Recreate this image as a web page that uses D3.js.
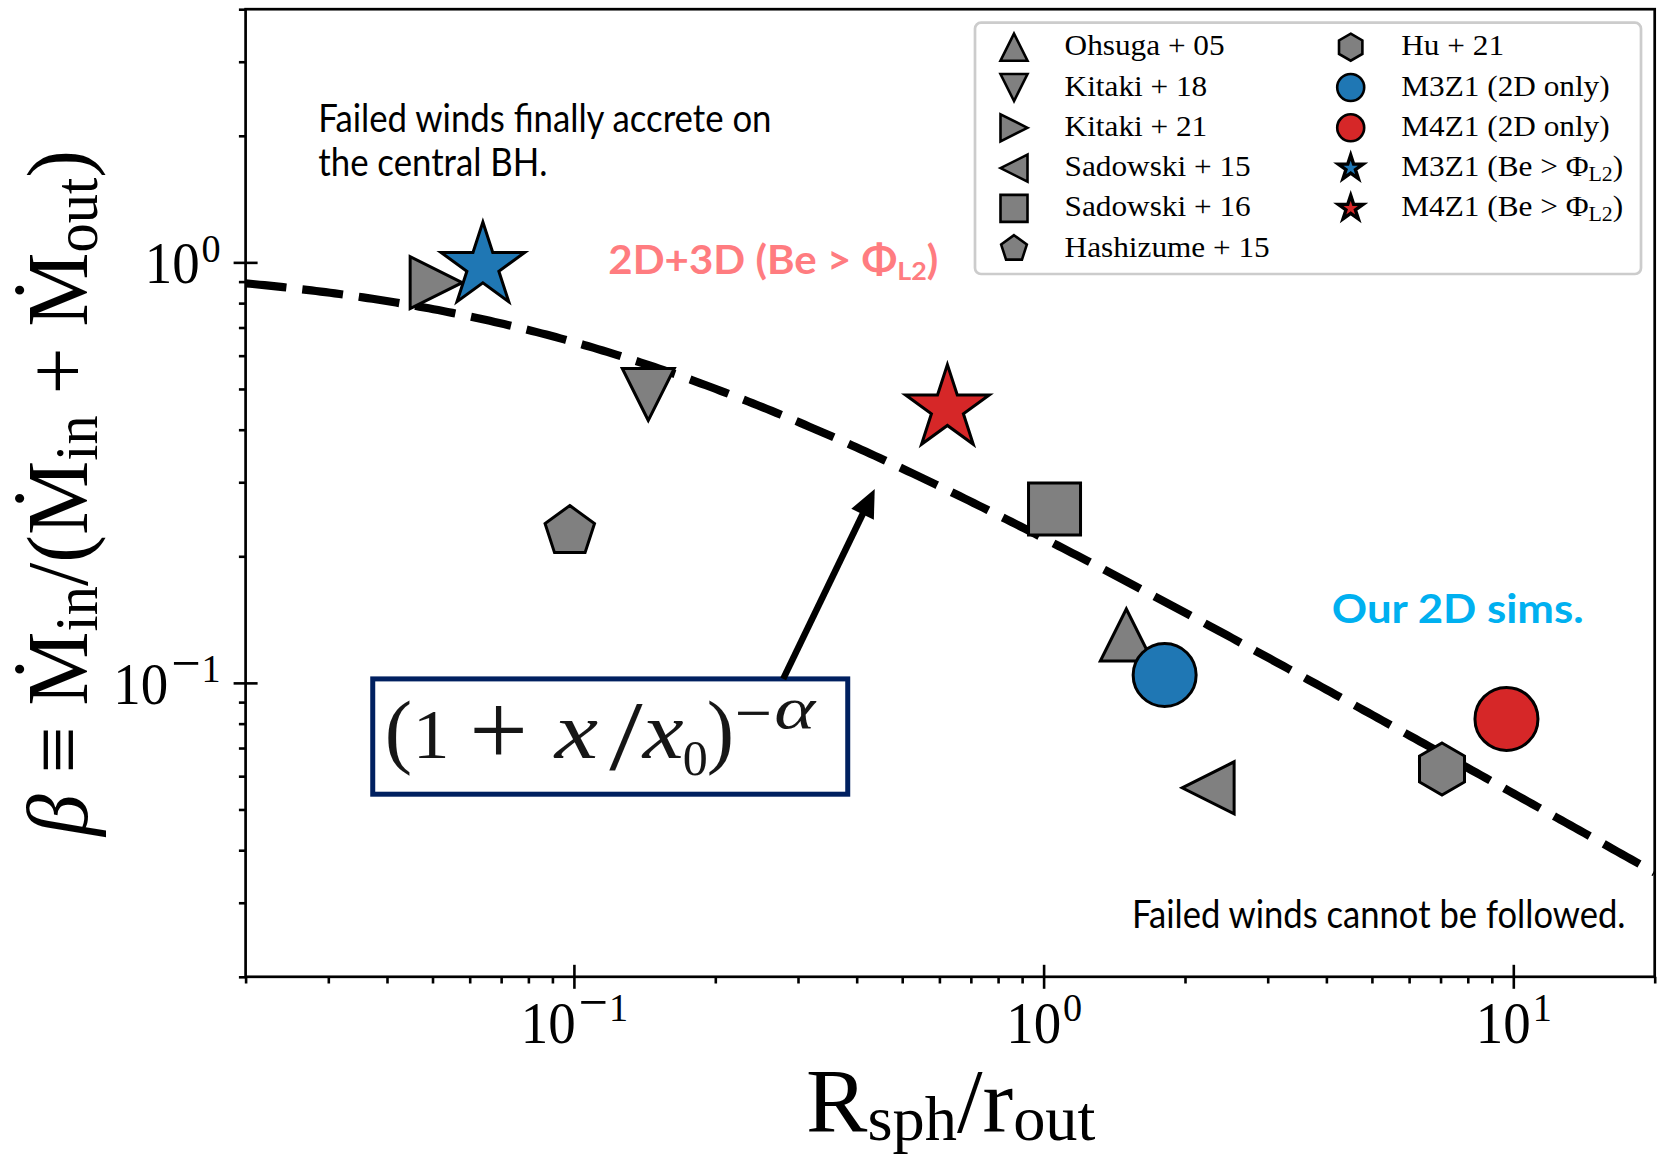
<!DOCTYPE html>
<html>
<head>
<meta charset="utf-8">
<script src="https://cdn.jsdelivr.net/npm/d3@7"></script>
<style>
  html, body { margin: 0; padding: 0; background: #fff; }
  svg { display: block; }
</style>
</head>
<body>
<svg id="chart" width="1660" height="1156"></svg>
<script>
// ---- data -------------------------------------------------------------
const legendLabels = [
  "Ohsuga + 05", "Kitaki + 18", "Kitaki + 21", "Sadowski + 15", "Sadowski + 16",
  "Hashizume + 15", "Hu + 21", "M3Z1 (2D only)", "M4Z1 (2D only)",
  "M3Z1 (Be > Φ_{L2})", "M4Z1 (Be > Φ_{L2})"
];
const markerShapes = [
  "triangle-up", "triangle-down", "triangle-right", "triangle-left", "square",
  "pentagon", "hexagon", "circle", "circle", "star", "star"
];
const markerFills = [
  "#808080", "#808080", "#808080", "#808080", "#808080", "#808080", "#808080",
  "#1f77b4", "#d62728", "#1f77b4", "#d62728"
];
// R_sph / r_out
const rSphOverROut = [1.50, 0.144, 0.0509, 2.24, 1.055, 0.098, 7.05, 1.81, 9.67, 0.064, 0.624];
// beta = Mdot_in / (Mdot_in + Mdot_out)
const betaValues   = [0.130, 0.485, 0.895, 0.0563, 0.259, 0.229, 0.0624, 0.1044, 0.0821, 0.98, 0.449];

// fitted relation beta = (1 + x/x0)^(-alpha)
const fitX0 = 0.1;
const fitAlpha = 0.63;

const xDomain = [0.02, 20];
const yDomain = [0.02, 4];
const xMajorTicks = [0.1, 1, 10];
const xMajorExponents = ["−1", "0", "1"];
const yMajorTicks = [0.1, 1];
const yMajorExponents = ["−1", "0"];

// ---- layout -----------------------------------------------------------
const plot = { left: 245.6, right: 1654.7, top: 9.2, bottom: 976.8 };
const SERIF = "'Liberation Serif', 'DejaVu Serif', serif";
const SANS = "Lato, Carlito, 'Open Sans', sans-serif";

const svg = d3.select("#chart");
const x = d3.scaleLog().domain(xDomain).range([plot.left, plot.right]);
const y = d3.scaleLog().domain(yDomain).range([plot.bottom, plot.top]);

svg.append("defs").append("clipPath").attr("id", "plot-clip")
  .append("rect")
  .attr("x", plot.left).attr("y", plot.top)
  .attr("width", plot.right - plot.left).attr("height", plot.bottom - plot.top);
svg.select("defs").append("filter").attr("id", "soft")
  .append("feGaussianBlur").attr("stdDeviation", 0.6);

// ---- helpers ----------------------------------------------------------
function parseRich(str) {
  const parts = [];
  const re = /([_^])\{([^}]*)\}|\*([^*]+)\*/g;
  let last = 0, m;
  while ((m = re.exec(str))) {
    if (m.index > last) parts.push({ t: str.slice(last, m.index), k: "n" });
    if (m[1]) parts.push({ t: m[2], k: m[1] === "_" ? "sub" : "sup" });
    else parts.push({ t: m[3], k: "it" });
    last = re.lastIndex;
  }
  if (last < str.length) parts.push({ t: str.slice(last), k: "n" });
  return parts;
}

function writeRich(text, str, size, o = {}) {
  const subScale = o.subScale ?? 0.7, subDy = o.subDy ?? 0.16, supDy = o.supDy ?? 0.4;
  let off = 0;
  parseRich(str).forEach(p => {
    let target = 0, fs = size;
    if (p.k === "sub") { target = subDy * size; fs = size * subScale; }
    if (p.k === "sup") { target = -supDy * size; fs = size * subScale; }
    const ts = text.append("tspan").attr("dy", (target - off).toFixed(2)).attr("font-size", fs).text(p.t);
    if (p.k === "it") ts.attr("font-style", "italic");
    off = target;
  });
  return text;
}

// stretch a text horizontally so that it spans the given width
function fitWidth(text, width) {
  const w = text.node().getBBox().width;
  const s = width / w;
  text.attr("transform", `scale(${s},1)`);
  return s;
}

function markerPath(shape, ms) {
  const h = ms / 2;
  const poly = (n, r0, r1) => d3.range(n).map(i => {
    const r = i % 2 && r1 !== undefined ? r1 : r0;
    const a = (-90 + 360 / n * i) * Math.PI / 180;
    return [r * Math.cos(a), r * Math.sin(a)];
  });
  let pts;
  switch (shape) {
    case "circle":
      return `M${h},0A${h},${h} 0 1,1 ${-h},0A${h},${h} 0 1,1 ${h},0Z`;
    case "triangle-up":    pts = [[0, -h], [-h, h], [h, h]]; break;
    case "triangle-down":  pts = [[0, h], [-h, -h], [h, -h]]; break;
    case "triangle-right": pts = [[h, 0], [-h, -h], [-h, h]]; break;
    case "triangle-left":  pts = [[-h, 0], [h, -h], [h, h]]; break;
    case "square":         pts = [[-h, -h], [h, -h], [h, h], [-h, h]]; break;
    case "pentagon":       pts = poly(5, h); break;
    case "hexagon":        pts = poly(6, h); break;
    case "star":           pts = poly(10, h, h * 0.381966); break;
  }
  return "M" + pts.map(p => p.map(v => v.toFixed(2)).join(",")).join("L") + "Z";
}

const plotMarkerSize = s => s === "circle" ? 63 : s === "star" ? 88 : 52;
const legendMarkerSize = s => s === "star" ? 26 : 27;

// ---- fitted curve -------------------------------------------------------
const curveX = d3.range(0, 301).map(i => xDomain[0] * Math.pow(xDomain[1] / xDomain[0], i / 300));
const line = d3.line().x(d => x(d)).y(d => y(Math.pow(1 + d / fitX0, -fitAlpha)));
svg.append("path")
  .attr("clip-path", "url(#plot-clip)")
  .attr("d", line(curveX))
  .attr("fill", "none")
  .attr("stroke", "#000")
  .attr("stroke-width", 8.2)
  .attr("stroke-dasharray", "41,16")
  .attr("stroke-linecap", "butt");

// ---- markers ----------------------------------------------------------
const points = legendLabels.map((label, i) => ({
  label, shape: markerShapes[i], fill: markerFills[i], xv: rSphOverROut[i], yv: betaValues[i]
}));
svg.append("g").attr("clip-path", "url(#plot-clip)")
  .selectAll("path").data(points).join("path")
  .attr("transform", d => `translate(${x(d.xv)},${y(d.yv)})`)
  .attr("d", d => markerPath(d.shape, plotMarkerSize(d.shape)))
  .attr("fill", d => d.fill)
  .attr("stroke", "#000")
  .attr("stroke-width", 3)
  .attr("stroke-linejoin", "miter");

// ---- frame & axes -------------------------------------------------------
svg.append("rect")
  .attr("x", plot.left).attr("y", plot.top)
  .attr("width", plot.right - plot.left).attr("height", plot.bottom - plot.top)
  .attr("fill", "none").attr("stroke", "#000").attr("stroke-width", 2.7);

const minorOf = dom => {
  const out = [];
  for (let e = Math.floor(Math.log10(dom[0])); e <= Math.ceil(Math.log10(dom[1])); e++)
    for (let k = 2; k <= 9; k++) {
      const v = k * Math.pow(10, e);
      if (v >= dom[0] * 0.999 && v <= dom[1] * 1.001) out.push(v);
    }
  return out;
};

const TICK_FS = 59, TICK_SUP = 41;
// horizontal scale of the tick-label digits
const probe = svg.append("text").attr("font-family", SERIF).attr("font-size", TICK_FS).text("10");
const tickScale = 55 / probe.node().getBBox().width;
probe.remove();

function styleTickLabel(text, exponent) {
  text.text(null).attr("x", 0).attr("y", 0).attr("dy", null)
    .attr("fill", "#000").attr("font-family", SERIF).attr("font-size", TICK_FS);
  text.append("tspan").text("10");
  if (exponent.startsWith("−")) {
    text.append("tspan").attr("dx", 3).attr("dy", -21.6).attr("font-size", 56).text("−");
    text.append("tspan").attr("dx", 1).attr("font-size", TICK_SUP).text(exponent.slice(1));
  } else {
    text.append("tspan").attr("dx", 2).attr("dy", -21.6).attr("font-size", TICK_SUP).text(exponent);
  }
}

const gxMinor = svg.append("g").attr("transform", `translate(0,${plot.bottom})`)
  .call(d3.axisBottom(x).tickValues(minorOf(xDomain)).tickSize(6.7).tickFormat(() => ""));
const gx = svg.append("g").attr("transform", `translate(0,${plot.bottom})`)
  .call(d3.axisBottom(x).tickValues(xMajorTicks).tickSize(12));
gx.selectAll(".tick text").each(function (d, i) {
  const t = d3.select(this);
  styleTickLabel(t, xMajorExponents[i]);
  t.attr("text-anchor", "middle").attr("transform", `translate(0,65.7) scale(${tickScale},1)`);
});
gx.selectAll(".tick line").attr("y1", -12).attr("y2", 12);

const gyMinor = svg.append("g").attr("transform", `translate(${plot.left},0)`)
  .call(d3.axisLeft(y).tickValues(minorOf(yDomain)).tickSize(6.7).tickFormat(() => ""));
const gy = svg.append("g").attr("transform", `translate(${plot.left},0)`)
  .call(d3.axisLeft(y).tickValues(yMajorTicks).tickSize(12));
gy.selectAll(".tick text").each(function (d, i) {
  const t = d3.select(this);
  styleTickLabel(t, yMajorExponents[i]);
  t.attr("text-anchor", "end").attr("transform", `translate(-25,20.5) scale(${tickScale},1)`);
});
gy.selectAll(".tick line").attr("x1", 12).attr("x2", -12);

[gx, gy, gxMinor, gyMinor].forEach(g => {
  g.select(".domain").remove();
  g.selectAll(".tick line").attr("stroke", "#000").attr("stroke-width", 2.6);
});

// ---- axis titles --------------------------------------------------------
const xTitle = svg.append("g").attr("transform", "translate(806,1131.7)")
  .append("text").attr("font-family", SERIF).attr("fill", "#000");
writeRich(xTitle, "R_{sph}/r_{out}", 90, { subDy: 0.09, subScale: 0.7 });
fitWidth(xTitle, 290);

const yTitle = svg.append("g").attr("transform", "translate(87,836) rotate(-90)")
  .append("text").attr("font-family", SERIF).attr("fill", "#000");
writeRich(yTitle, "*β* ≡ Ṁ_{in}/(Ṁ_{in} + Ṁ_{out})", 87, { subDy: 0.12, subScale: 0.7 });
fitWidth(yTitle, 688);

// ---- legend -------------------------------------------------------------
const legend = svg.append("g");
legend.append("rect")
  .attr("x", 975).attr("y", 22.7).attr("width", 666).attr("height", 251.3)
  .attr("rx", 6).attr("fill", "#fff").attr("stroke", "#cccccc").attr("stroke-width", 2.7);
const LEG_FS = 28.7;
let legendScale = null;
points.forEach((p, i) => {
  const col = i < 6 ? 0 : 1, row = i < 6 ? i : i - 6;
  const baseY = 55.2 + row * 40.3;
  const mx = col === 0 ? 1014 : 1350.7;
  const tx = col === 0 ? 1064.6 : 1401.3;
  legend.append("path")
    .attr("transform", `translate(${mx},${baseY - 8})`)
    .attr("d", markerPath(p.shape, legendMarkerSize(p.shape)))
    .attr("fill", p.fill).attr("stroke", "#000")
    .attr("stroke-width", p.shape === "star" ? 3.4 : 2.6);
  const t = legend.append("g").attr("transform", `translate(${tx},${baseY})`)
    .append("text").attr("font-family", SERIF).attr("fill", "#000");
  writeRich(t, p.label, LEG_FS, { subDy: 0.16, subScale: 0.7 });
  if (legendScale === null) legendScale = fitWidth(t, 160);
  else t.attr("transform", `scale(${legendScale},1)`);
});

// ---- annotations --------------------------------------------------------
function note(str, left, baseline, size, width, opts) {
  const t = svg.append("g").attr("transform", `translate(${left},${baseline})`)
    .append("text").attr("font-family", SANS).attr("font-size", size)
    .attr("font-weight", opts.weight || 400).attr("fill", opts.color || "#000");
  writeRich(t, str, size, opts.rich || {});
  return width ? fitWidth(t, width) : t;
}
const sNote = note("Failed winds finally accrete on", 318.3, 131.5, 39.5, 453.4, {});
svg.append("g").attr("transform", "translate(318.3,175.5)")
  .append("text").attr("font-family", SANS).attr("font-size", 39.5).attr("fill", "#000")
  .attr("transform", `scale(${sNote},1)`).text("the central BH.");
note("2D+3D (Be > Φ_{L2})", 608.3, 274.3, 40, 330,
  { weight: 700, color: "#ff7c80", rich: { subDy: 0.15, subScale: 0.64 } });
note("Our 2D sims.", 1331.8, 623, 40.5, 252, { weight: 700, color: "#00b0f0" });
note("Failed winds cannot be followed.", 1132, 928.3, 39.5, 493.6, {});

// formula box with an arrow pointing at the fitted curve
const boxCorner = [0.0373, 0.1022];   // top-left, data space
const boxSize = [475, 115.3];
const bx = x(boxCorner[0]), by = y(boxCorner[1]);
svg.append("rect")
  .attr("x", bx).attr("y", by).attr("width", boxSize[0]).attr("height", boxSize[1])
  .attr("fill", "#fff").attr("stroke", "#002060").attr("stroke-width", 5);

// (1 + x/x0)^(-alpha), glyph by glyph: offset from the box corner, size, width scale, style
const formulaGlyphs = [
  { t: "(", dx: 12,    dy: 0,     fs: 82,  sx: 1 },
  { t: "1", dx: 40,    dy: 0,     fs: 70,  sx: 1.05 },
  { t: "+", dx: 96.5,  dy: 7,     fs: 104, sx: 1 },
  { t: "x", dx: 182,   dy: 0,     fs: 80,  sx: 1.22, it: true },
  { t: "/", dx: 236.5, dy: 11,    fs: 100, sx: 1.2 },
  { t: "x", dx: 270,   dy: 0,     fs: 80,  sx: 1.15, it: true },
  { t: "0", dx: 310,   dy: 17,    fs: 50,  sx: 1 },
  { t: ")", dx: 334,   dy: 0,     fs: 82,  sx: 1 },
  { t: "−", dx: 362,   dy: -23.5, fs: 66,  sx: 1 },
  { t: "α", dx: 401.5, dy: -30,   fs: 60,  sx: 1.3, it: true }
];
const formula = svg.append("g").attr("filter", "url(#soft)");
formulaGlyphs.forEach(g => {
  formula.append("text")
    .attr("transform", `translate(${bx + g.dx},${by + 79.5 + g.dy}) scale(${g.sx},1)`)
    .attr("font-family", SERIF).attr("fill", "#151515")
    .attr("font-size", g.fs).attr("font-style", g.it ? "italic" : null)
    .text(g.t);
});

const arrowTail = [0.279, 0.1022];
const arrowTip = [0.437, 0.289];
const [ax0, ay0] = [x(arrowTail[0]), y(arrowTail[1])];
const [ax1, ay1] = [x(arrowTip[0]), y(arrowTip[1])];
const len = Math.hypot(ax1 - ax0, ay1 - ay0);
const ux = (ax1 - ax0) / len, uy = (ay1 - ay0) / len;
const headLen = 28, headHalf = 12.5;
const hbx = ax1 - ux * headLen, hby = ay1 - uy * headLen;
svg.append("line")
  .attr("x1", ax0).attr("y1", ay0).attr("x2", hbx + ux * 2).attr("y2", hby + uy * 2)
  .attr("stroke", "#000").attr("stroke-width", 6.5);
svg.append("path")
  .attr("d", `M${ax1},${ay1}L${hbx - uy * headHalf},${hby + ux * headHalf}L${hbx + uy * headHalf},${hby - ux * headHalf}Z`)
  .attr("fill", "#000");
</script>
</body>
</html>
